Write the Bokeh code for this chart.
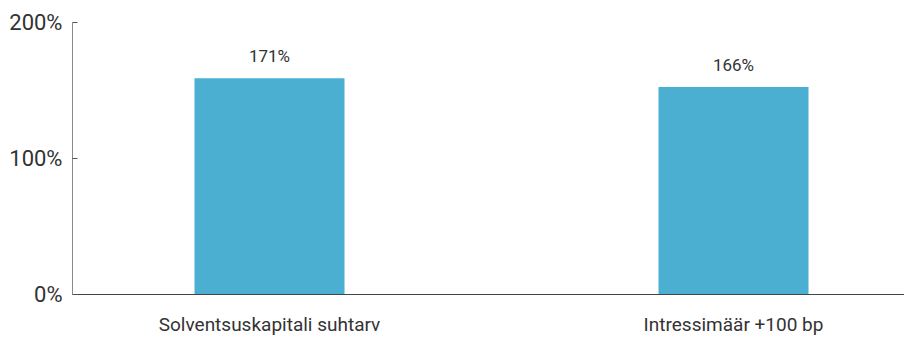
from bokeh.plotting import figure
from bokeh.models import ColumnDataSource, FixedTicker, PrintfTickFormatter, Range1d
from bokeh.core.properties import value
from bokeh.embed import file_html
from bokeh.resources import INLINE

categories = ["Solventsuskapitali suhtarv", "Intressimäär +100 bp"]
values = [159, 152.5]
bar_labels = ["171%", "166%"]
y_ticks = [0, 100, 200]

xs = list(range(len(categories)))
src = ColumnDataSource(data=dict(x=xs, top=values, label=bar_labels))

p = figure(width=904, height=338, output_backend="svg", toolbar_location=None,
           x_range=Range1d(-0.4246, 1.3685), y_range=Range1d(0, 200),
           min_border_left=72, min_border_right=0, min_border_top=22, min_border_bottom=42)
p.outline_line_color = None
p.grid.grid_line_color = None
p.background_fill_color = "white"

p.vbar(x="x", top="top", width=0.3233, bottom=0, source=src,
       fill_color="#4BAFD2", line_color=None)

p.text(x="x", y="top", text="label", source=src, y_offset=-22.5,
       text_align="center", text_baseline="alphabetic",
       text_font=value("Roboto"), text_font_size="17px", text_color="#333333")

yax = p.yaxis[0]
yax.ticker = FixedTicker(ticks=y_ticks)
yax.formatter = PrintfTickFormatter(format="%d%%")
yax.major_tick_in = 5
yax.major_tick_out = 0
yax.minor_tick_line_color = None
yax.axis_line_color = "#8a8a8a"
yax.major_tick_line_color = "#555555"
yax.major_label_text_font = "Roboto"
yax.major_label_text_font_size = "22px"
yax.major_label_text_color = "#333333"
yax.major_label_standoff = 10

xax = p.xaxis[0]
xax.ticker = FixedTicker(ticks=xs)
xax.major_label_overrides = {i: c for i, c in enumerate(categories)}
xax.major_tick_line_color = None
xax.minor_tick_line_color = None
xax.axis_line_color = "#444444"
xax.major_label_text_font = "Roboto"
xax.major_label_text_font_size = "19px"
xax.major_label_text_color = "#333333"
xax.major_label_standoff = 12

open("out.html", "w").write(file_html(p, INLINE))
